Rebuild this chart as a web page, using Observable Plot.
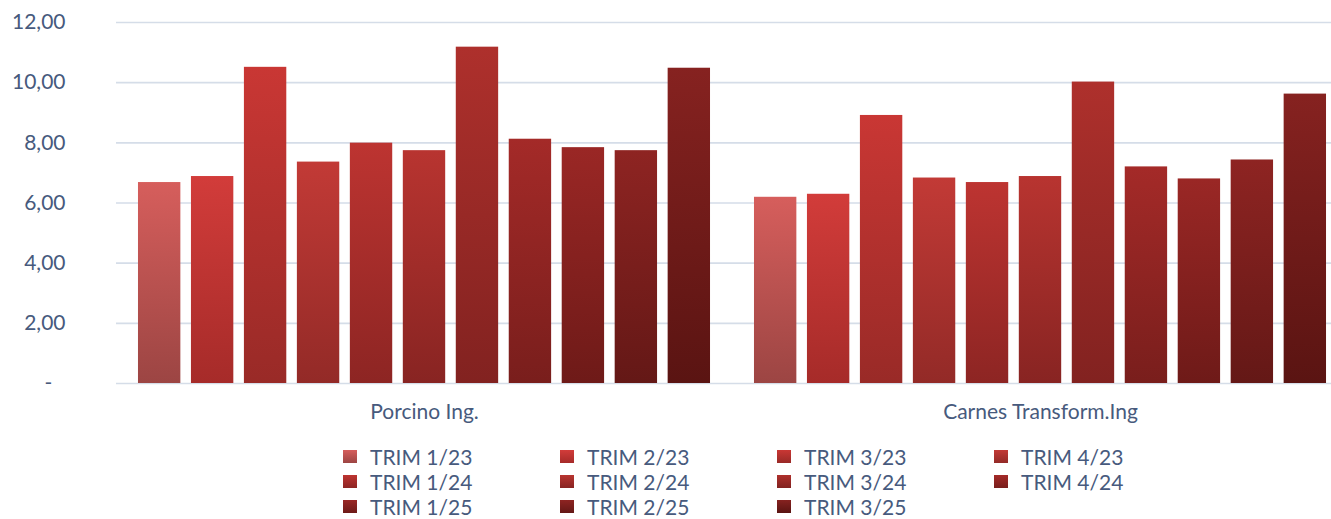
<!DOCTYPE html>
<html><head><meta charset="utf-8">
<script src="https://cdn.jsdelivr.net/npm/d3@7"></script>
<script src="https://cdn.jsdelivr.net/npm/@observablehq/plot@0.6"></script>
<style>
body{margin:0;background:#fff;font-family:Lato,sans-serif;}
#wrap{width:1331px;overflow:hidden;position:relative}
#chart svg{max-width:none !important;display:block}
#legend{position:relative;height:87px}
.item{position:absolute;display:flex;align-items:center;font-size:21px;color:#475a7d;line-height:25px;white-space:nowrap}
.sw{width:14px;height:13px;margin-right:13px}
</style></head><body>
<div id="wrap"><div id="chart"></div><div id="legend"></div></div>
<script>
const categories = ["Porcino Ing.", "Carnes Transform.Ing"];
const series = ["TRIM 1/23","TRIM 2/23","TRIM 3/23","TRIM 4/23","TRIM 1/24","TRIM 2/24","TRIM 3/24","TRIM 4/24","TRIM 1/25","TRIM 2/25","TRIM 3/25"];
const porcinoValues = [6.68, 6.88, 10.51, 7.36, 7.99, 7.74, 11.18, 8.12, 7.84, 7.74, 10.48];
const carnesValues  = [6.19, 6.29, 8.91, 6.83, 6.68, 6.88, 10.02, 7.20, 6.80, 7.43, 9.62];
const yTicks = [0, 2, 4, 6, 8, 10, 12];
const topColors    = ["#d65e5c","#d23c3a","#c93734","#c23a36","#bd3431","#b83430","#ae302c","#a42a28","#9a2725","#8e2422","#862220"];
const bottomColors = ["#9c4543","#a62b29","#992a27","#932a27","#8d2523","#882422","#822220","#791e1c","#6e1a18","#641816","#5a1412"];

const valuesByCat = [porcinoValues, carnesValues];
const data = [];
categories.forEach((c, ci) => series.forEach((s, si) => data.push({cat: c, series: s, idx: si, value: valuesByCat[ci][si]})));

const fmt = d => d === 0 ? "-\u2002\u2009" : d.toFixed(2).replace(".", ",");

const svg = Plot.plot({
  width: 1348, height: 432,
  marginLeft: 116, marginRight: 0, marginTop: 22, marginBottom: 49,
  style: {fontFamily: "Lato, sans-serif", fontSize: "21px", color: "#475a7d", background: "#fff", maxWidth: "none"},
  fx: {domain: categories, padding: 0, round: false, label: null, tickSize: 0, tickPadding: 21, axis: "bottom"},
  x: {domain: series, paddingInner: 0.2, paddingOuter: 0.415, round: false, axis: null},
  y: {domain: [0, 12], ticks: yTicks, label: null, tickSize: 0, tickPadding: 51, tickFormat: fmt},
  color: {type: "identity"},
  marks: [
    Plot.gridY(yTicks, {stroke: "#d5dde8", strokeOpacity: 1, strokeWidth: 1.6}),
    Plot.barY(data, {fx: "cat", x: "series", y: "value", fill: d => `url(#grad${d.idx})`})
  ]
});

const defs = d3.select(svg).insert("defs", ":first-child");
topColors.forEach((t, i) => {
  const g = defs.append("linearGradient").attr("id", "grad" + i)
    .attr("x1", 0).attr("y1", 0).attr("x2", 0).attr("y2", 1);
  g.append("stop").attr("offset", "0%").attr("stop-color", t);
  g.append("stop").attr("offset", "100%").attr("stop-color", bottomColors[i]);
});
document.getElementById("chart").appendChild(svg);

const legend = document.getElementById("legend");
series.forEach((s, i) => {
  const col = i % 4, row = Math.floor(i / 4);
  const el = document.createElement("div");
  el.className = "item";
  el.style.left = (343 + col * 217) + "px";
  el.style.top = (12 + row * 25) + "px";
  el.innerHTML = `<span class="sw" style="background:linear-gradient(to bottom, ${topColors[i]}, ${bottomColors[i]})"></span>${s}`;
  legend.appendChild(el);
});
</script>
</body></html>
